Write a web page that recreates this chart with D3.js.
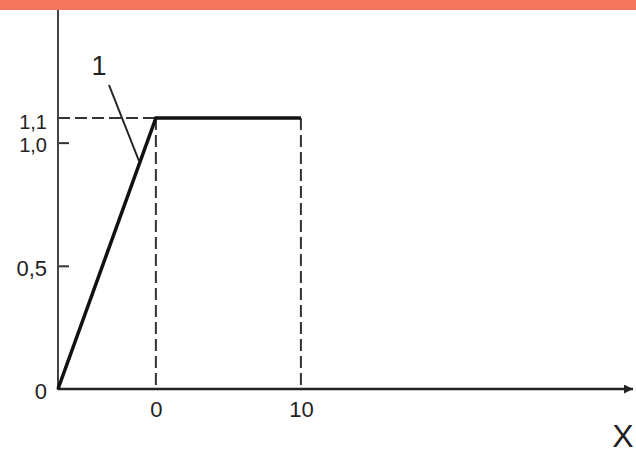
<!DOCTYPE html>
<html>
<head>
<meta charset="utf-8">
<script src="https://cdn.jsdelivr.net/npm/d3@7"></script>
<style>
  body { margin: 0; background: #fff; }
  svg { display: block; }
</style>
</head>
<body>
<svg width="636" height="455"></svg>
<script>
// data
const curveX = [-6.75, 0, 10];
const curveY = [0, 1.1, 1.1];
const xTicks = [0, 10];
const xTickLabels = ['0', '10'];
const yTicks = [0, 0.5, 1.0, 1.1];
const yTickLabels = ['0', '0,5', '1,0', '1,1'];
const curveLabel = '1';
const xAxisLabel = 'X';

const font = '"Liberation Sans", Arial, sans-serif';

const svg = d3.select('svg');
const width = +svg.attr('width');
const height = +svg.attr('height');

// banner strip on top
svg.append('rect')
    .attr('x', 0).attr('y', 0)
    .attr('width', width).attr('height', 10)
    .attr('fill', '#f4765e');

const xScale = d3.scaleLinear()
    .domain([-6.75, 32.9])
    .range([58, 633]);

const yScale = d3.scaleLinear()
    .domain([0, 1.1])
    .range([389, 118]);

const ink = '#222';

// arrow marker for x axis
svg.append('defs').append('marker')
    .attr('id', 'arrow')
    .attr('viewBox', '0 0 10 10')
    .attr('refX', 10).attr('refY', 5)
    .attr('markerUnits', 'userSpaceOnUse')
    .attr('markerWidth', 14).attr('markerHeight', 9)
    .attr('orient', 'auto')
  .append('path')
    .attr('d', 'M0,0 L10,5 L0,10 Z')
    .attr('fill', ink);

// dashed guides
const dashed = svg.append('g')
    .attr('stroke', '#333')
    .attr('stroke-width', 2)
    .attr('stroke-dasharray', '12,5')
    .attr('fill', 'none');

dashed.append('line')
    .attr('x1', xScale(curveX[0])).attr('x2', xScale(curveX[1]))
    .attr('y1', yScale(curveY[1])).attr('y2', yScale(curveY[1]));

xTicks.forEach(v => {
    dashed.append('line')
        .attr('x1', xScale(v)).attr('x2', xScale(v))
        .attr('y1', yScale(1.1)).attr('y2', yScale(0));
});

// y axis
const yAxis = svg.append('g')
    .attr('transform', `translate(${xScale(curveX[0])},0)`)
    .call(d3.axisLeft(yScale)
        .tickValues(yTicks)
        .tickSizeInner(-11)
        .tickSizeOuter(0)
        .tickPadding(11)
        .tickFormat((d, i) => yTickLabels[i]))
    .attr('font-family', font)
    .attr('font-size', 22);
yAxis.select('.domain').remove();
yAxis.selectAll('.tick line')
    .attr('stroke', '#333')
    .attr('stroke-width', 2)
    .attr('display', d => (d === 0.5 || d === 1.0) ? null : 'none');
yAxis.selectAll('.tick text')
    .attr('fill', ink)
    .attr('font-size', d => d >= 1 ? 20 : 22)
    .attr('dy', d => d === 1.1 ? '0.5em' : '0.42em');

svg.append('line')
    .attr('x1', xScale(curveX[0])).attr('x2', xScale(curveX[0]))
    .attr('y1', 10).attr('y2', yScale(0) + 1)
    .attr('stroke', '#444')
    .attr('stroke-width', 2);

// x axis
const xAxis = svg.append('g')
    .attr('transform', `translate(0,${yScale(0)})`)
    .call(d3.axisBottom(xScale)
        .tickValues(xTicks)
        .tickSize(0)
        .tickPadding(12)
        .tickFormat((d, i) => xTickLabels[i]))
    .attr('font-family', font)
    .attr('font-size', 22);
xAxis.select('.domain').remove();
xAxis.selectAll('.tick text')
    .attr('fill', ink);

svg.append('line')
    .attr('x1', xScale(curveX[0])).attr('x2', xScale.range()[1])
    .attr('y1', yScale(0)).attr('y2', yScale(0))
    .attr('stroke', ink)
    .attr('stroke-width', 2.5)
    .attr('marker-end', 'url(#arrow)');

// the curve
const line = d3.line()
    .x((d, i) => xScale(curveX[i]))
    .y(d => yScale(d));

svg.append('path')
    .datum(curveY)
    .attr('d', line)
    .attr('fill', 'none')
    .attr('stroke', '#111')
    .attr('stroke-width', 3.5)
    .attr('stroke-linejoin', 'miter');

// leader and callout number
svg.append('line')
    .attr('x1', 109).attr('y1', 85)
    .attr('x2', 139).attr('y2', 161)
    .attr('stroke', ink)
    .attr('stroke-width', 2);

svg.append('text')
    .attr('x', 99).attr('y', 75)
    .attr('text-anchor', 'middle')
    .attr('fill', ink)
    .attr('font-family', font)
    .attr('font-size', 27)
    .text(curveLabel);

svg.append('text')
    .attr('x', 623).attr('y', 447)
    .attr('text-anchor', 'middle')
    .attr('fill', ink)
    .attr('font-family', font)
    .attr('font-size', 32)
    .text(xAxisLabel);
</script>
</body>
</html>
